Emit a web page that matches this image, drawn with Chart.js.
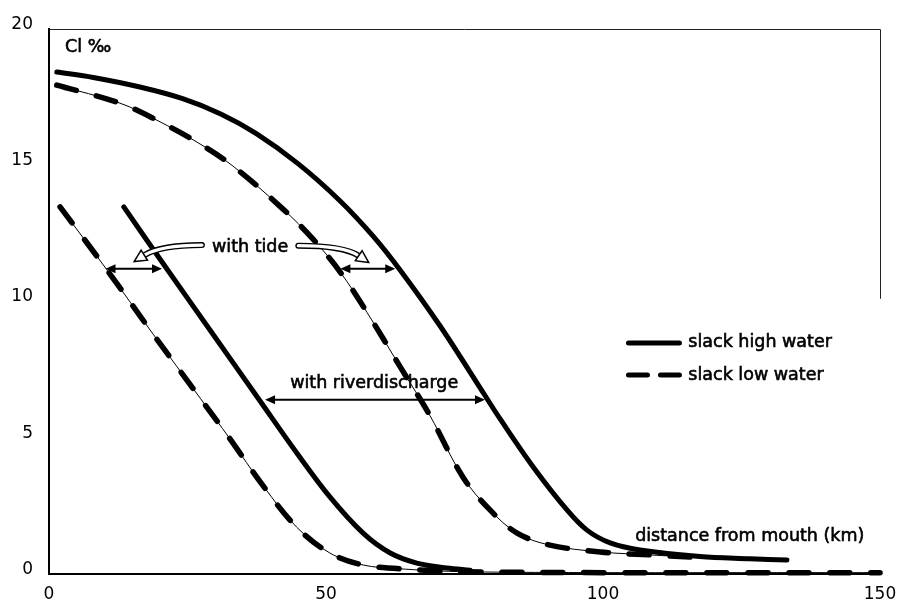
<!DOCTYPE html>
<html>
<head>
<meta charset="utf-8">
<script src="https://cdn.jsdelivr.net/npm/chart.js@4.4.0/dist/chart.umd.min.js"></script>
<style>
  html, body { margin: 0; padding: 0; background: #fff; }
  #wrap { width: 903px; height: 602px; }
</style>
</head>
<body>
<div id="wrap"><canvas id="salinity" width="903" height="602"></canvas></div>
<script>
// chloride profiles along the estuary: km from mouth vs Cl (per mille)
// low river discharge, slack high water
const kmHighLow = [1.4, 8, 16.4, 24, 31, 37.5, 45, 52.5, 58.5, 63.4, 70.6, 78.7, 81.4, 87.4, 93.5, 97.1, 101.3, 106.7, 117.5, 126.5, 133.2];
const clHighLow = [18.42, 18.22, 17.87, 17.45, 16.88, 16.15, 15.05, 13.7, 12.4, 11.15, 9.1, 6.55, 5.7, 3.93, 2.35, 1.61, 1.14, 0.88, 0.64, 0.56, 0.51];
// low river discharge, slack low water
const kmLowLow = [1.4, 12.8, 19.5, 26.7, 33.2, 42.2, 47.7, 52.5, 57.4, 63.4, 68.8, 74.7, 79.6, 84.5, 90.4, 99.5, 108.5, 117.5];
const clLowLow = [17.94, 17.28, 16.65, 15.85, 14.97, 13.4, 12.28, 11.1, 9.6, 7.6, 5.8, 3.56, 2.35, 1.5, 1.06, 0.81, 0.7, 0.6];
// high river discharge, slack high water
const kmHighHigh = [13.5, 20.4, 29.6, 38.1, 44.7, 50.7, 56.7, 61.6, 66.4, 71.8, 76];
const clHighHigh = [13.47, 11.45, 8.8, 6.35, 4.45, 2.83, 1.5, 0.77, 0.4, 0.22, 0.14];
// high river discharge, slack low water
const kmLowHigh = [2.0, 10.5, 18.8, 27.3, 32.7, 38.6, 44.7, 50.7, 56.7, 62.8, 68.8, 75.5, 100, 125, 150];
const clLowHigh = [13.47, 11.15, 8.8, 6.45, 4.95, 3.25, 1.72, 0.77, 0.33, 0.2, 0.13, 0.08, 0.05, 0.05, 0.05];

const xTicks = [0, 50, 100, 150];
const yTicks = [0, 5, 10, 15, 20];
const legendLabels = ['slack high water', 'slack low water'];

const pts = (xs, ys) => xs.map((x, i) => ({ x: x, y: ys[i] }));

const TICK_FONT = { family: 'DejaVu Sans', size: 17 };
const TEXT_FONT = '17.5px "DejaVu Sans"';

function solid(xs, ys) {
  return {
    data: pts(xs, ys), showLine: true, pointRadius: 0, borderColor: '#000',
    borderWidth: 5, borderCapStyle: 'round', tension: 0.35, clip: false
  };
}
function dashed(xs, ys) {
  return Object.assign(solid(xs, ys), { borderDash: [20, 21], borderWidth: 5.5 });
}
// dashed curves are drawn over a hairline of the same profile
function hairline(xs, ys) {
  return Object.assign(solid(xs, ys), { borderWidth: 1 });
}

// horizontal double-headed arrow between two km positions at a given Cl level
function doubleArrow(ctx, x0, x1, y) {
  const head = 10, half = 4.5;
  ctx.save();
  ctx.strokeStyle = '#000'; ctx.fillStyle = '#000'; ctx.lineWidth = 2;
  ctx.beginPath(); ctx.moveTo(x0 + head - 2, y); ctx.lineTo(x1 - head + 2, y); ctx.stroke();
  ctx.beginPath(); ctx.moveTo(x0, y); ctx.lineTo(x0 + head, y - half); ctx.lineTo(x0 + head, y + half); ctx.closePath(); ctx.fill();
  ctx.beginPath(); ctx.moveTo(x1, y); ctx.lineTo(x1 - head, y - half); ctx.lineTo(x1 - head, y + half); ctx.closePath(); ctx.fill();
  ctx.restore();
}

// open (outlined) curved arrow from the label towards a double arrow
function hollowArrow(ctx, p0, c, p1) {
  ctx.save();
  ctx.lineCap = 'round';
  ctx.beginPath(); ctx.moveTo(p0[0], p0[1]); ctx.quadraticCurveTo(c[0], c[1], p1[0], p1[1]);
  ctx.strokeStyle = '#000'; ctx.lineWidth = 6; ctx.stroke();
  ctx.strokeStyle = '#fff'; ctx.lineWidth = 3.2; ctx.stroke();
  const ang = Math.atan2(p1[1] - c[1], p1[0] - c[0]);
  const len = 12, w = 6;
  const tip = [p1[0] + Math.cos(ang) * len, p1[1] + Math.sin(ang) * len];
  const nx = -Math.sin(ang) * w, ny = Math.cos(ang) * w;
  ctx.beginPath();
  ctx.moveTo(tip[0], tip[1]);
  ctx.lineTo(p1[0] + nx, p1[1] + ny);
  ctx.lineTo(p1[0] - nx, p1[1] - ny);
  ctx.closePath();
  ctx.fillStyle = '#fff'; ctx.fill();
  ctx.strokeStyle = '#000'; ctx.lineWidth = 1.5; ctx.stroke();
  ctx.restore();
}

// slightly heavier lettering for the in-plot labels
function label(ctx, text, x, y) {
  ctx.fillText(text, x, y);
  ctx.lineWidth = 0.6;
  ctx.strokeText(text, x, y);
}

// keep the plot box fixed: no extra room for overhanging tick labels
function noOverhang(s) {
  s.paddingLeft = 0; s.paddingRight = 0; s.paddingTop = 0; s.paddingBottom = 0;
}

const annotations = {
  id: 'annotations',
  afterDatasetsDraw(chart) {
    const { ctx, chartArea: a, scales: { x, y } } = chart;
    const px = v => x.getPixelForValue(v);
    const py = v => y.getPixelForValue(v);

    // frame: thin top edge and upper part of the right edge
    ctx.save();
    ctx.strokeStyle = '#222'; ctx.lineWidth = 1;
    ctx.beginPath();
    ctx.moveTo(a.left, a.top + 0.5); ctx.lineTo(a.right + 0.5, a.top + 0.5);
    ctx.lineTo(a.right + 0.5, py(10.1));
    ctx.stroke();
    ctx.restore();

    // tide and discharge arrows
    doubleArrow(ctx, px(10.2), px(20.4), py(11.2));
    doubleArrow(ctx, px(52.6), px(62.5), py(11.2));
    doubleArrow(ctx, px(39.0), px(78.7), py(6.39));
    hollowArrow(ctx, [px(27.6), py(12.07)], [px(20.0), py(12.06)], [px(17.2), py(11.7)]);
    hollowArrow(ctx, [px(45.0), py(12.05)], [px(53.2), py(12.05)], [px(55.9), py(11.68)]);

    ctx.save();
    ctx.fillStyle = '#000';
    ctx.strokeStyle = '#000';
    ctx.textBaseline = 'middle';
    ctx.font = TEXT_FONT;
    ctx.textAlign = 'center';
    label(ctx, 'with tide', px(36.3), py(12.0));
    label(ctx, 'with riverdischarge', px(58.7), py(7.0));
    ctx.textAlign = 'left';
    label(ctx, 'Cl ‰', px(2.9), py(19.34));
    label(ctx, 'distance from mouth (km)', px(105.8), py(1.36));

    // legend
    const rows = [py(8.48), py(7.3)];
    const lx0 = px(104.6), lx1 = px(113.8);
    ctx.lineCap = 'round'; ctx.lineWidth = 5;
    ctx.beginPath(); ctx.moveTo(lx0, rows[0]); ctx.lineTo(lx1, rows[0]); ctx.stroke();
    ctx.setLineDash([19, 13]);
    ctx.beginPath(); ctx.moveTo(lx0, rows[1]); ctx.lineTo(lx1, rows[1]); ctx.stroke();
    ctx.setLineDash([]);
    legendLabels.forEach((t, i) => label(ctx, t, px(115.4), rows[i]));
    ctx.restore();
  }
};

new Chart(document.getElementById('salinity'), {
  type: 'scatter',
  data: {
    datasets: [
      hairline(kmLowLow, clLowLow),
      hairline(kmLowHigh, clLowHigh),
      solid(kmHighLow, clHighLow),
      dashed(kmLowLow, clLowLow),
      solid(kmHighHigh, clHighHigh),
      dashed(kmLowHigh, clLowHigh)
    ]
  },
  options: {
    responsive: false,
    devicePixelRatio: 1,
    animation: false,
    layout: { padding: { top: 29, right: 23, left: 0, bottom: 0 } },
    plugins: { legend: { display: false }, tooltip: { enabled: false } },
    scales: {
      x: {
        type: 'linear', min: 0, max: 150,
        afterBuildTicks: s => { s.ticks = xTicks.map(v => ({ value: v })); },
        afterFit: s => { s.height = 28; noOverhang(s); },
        grid: { display: false, drawTicks: false },
        border: { display: true, color: '#000', width: 2 },
        ticks: { color: '#000', font: TICK_FONT, padding: 10, maxRotation: 0 }
      },
      y: {
        type: 'linear', min: 0, max: 20,
        afterBuildTicks: s => { s.ticks = yTicks.map(v => ({ value: v })); },
        afterFit: s => { s.width = 49; noOverhang(s); },
        grid: { display: false, drawTicks: false },
        border: { display: true, color: '#000', width: 2 },
        ticks: { color: '#000', font: TICK_FONT, padding: 16, labelOffset: -4.5 }
      }
    }
  },
  plugins: [annotations]
});
</script>
</body>
</html>
